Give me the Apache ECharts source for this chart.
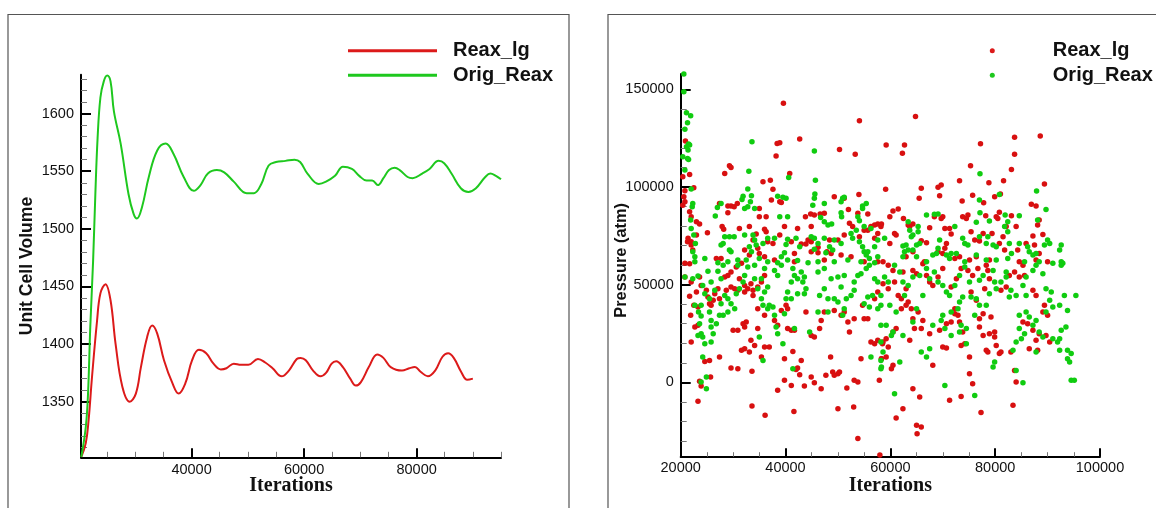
<!DOCTYPE html>
<html>
<head>
<meta charset="utf-8">
<script src="https://cdn.jsdelivr.net/npm/echarts@6/dist/echarts.min.js"></script>
<style>
html,body{margin:0;padding:0;background:#fff;}
#chart{width:1156px;height:508px;}
</style>
</head>
<body>
<div id="chart"></div>
<script>
// ---------- Left panel: Unit Cell Volume vs Iterations ----------
const seriesNames = ['Reax_lg', 'Orig_Reax'];

const reaxLgIter = [20400, 21200, 21700, 22300, 23200, 23800, 24700, 25600, 26500, 27700, 29000, 30100, 31000, 32100, 33000, 33900, 35100, 36600, 37700, 38900, 40100, 41300, 42600, 43900, 45200, 46200, 47500, 48800, 50100, 51800, 53100, 54400, 56000, 57300, 58700, 59400, 60300, 61600, 62900, 63900, 64900, 65700, 66900, 68200, 69200, 70100, 71500, 73000, 74100, 75400, 77400, 78700, 79700, 80700, 82000, 83300, 84600, 85600, 86600, 87900, 89000, 90000];
const reaxLgVolume = [1302, 1314, 1334, 1371, 1420, 1444, 1452, 1438, 1400, 1363, 1350, 1357, 1380, 1406, 1416, 1409, 1386, 1366, 1357, 1366, 1386, 1395, 1392, 1383, 1378, 1379, 1383, 1382, 1382, 1387, 1384, 1379, 1372, 1377, 1387, 1388, 1386, 1377, 1372, 1375, 1383, 1385, 1380, 1370, 1364, 1367, 1380, 1391, 1388, 1380, 1377, 1379, 1380, 1376, 1372, 1377, 1389, 1392, 1388, 1376, 1369, 1370];

const origReaxIter = [20400, 21200, 21600, 22000, 22500, 22900, 23300, 23800, 24400, 25000, 25600, 26200, 27400, 28800, 29700, 30300, 31200, 32400, 33900, 35400, 36800, 38600, 40400, 41600, 42900, 44500, 45800, 47500, 49800, 51100, 52400, 53700, 55000, 56700, 58300, 59300, 60600, 62600, 63900, 65500, 66900, 68500, 69800, 71100, 72100, 73100, 74100, 75100, 76100, 77000, 78400, 79300, 81000, 82300, 83900, 84900, 86200, 87900, 89200, 90500, 92200, 93100, 94100, 95000];
const origReaxVolume = [1302, 1328, 1357, 1415, 1472, 1530, 1579, 1614, 1628, 1633, 1628, 1602, 1574, 1530, 1513, 1509, 1519, 1545, 1568, 1574, 1565, 1545, 1533, 1538, 1548, 1551, 1549, 1541, 1531, 1531, 1539, 1555, 1558, 1559, 1560, 1558, 1548, 1539, 1541, 1546, 1554, 1552, 1546, 1542, 1542, 1538, 1544, 1551, 1553, 1551, 1545, 1544, 1548, 1552, 1559, 1557, 1548, 1535, 1532, 1535, 1545, 1548, 1546, 1543];

const volumeTicks = [1350, 1400, 1450, 1500, 1550, 1600];
const volumeMinorTicks = [1310, 1320, 1330, 1340, 1360, 1370, 1380, 1390, 1410, 1420, 1430, 1440, 1460, 1470, 1480, 1490, 1510, 1520, 1530, 1540, 1560, 1570, 1580, 1590, 1610, 1620, 1630];
const volumeIterTicks = [40000, 60000, 80000];
const volumeIterMinorTicks = [25000, 30000, 35000, 45000, 50000, 55000, 65000, 70000, 75000, 85000, 90000, 95000];

// ---------- Right panel: Pressure vs Iterations ----------
const reaxLgPressure = [
[39600,142800],[54100,133900],[42700,124500],[38400,122300],[38900,122600],[38200,115800],[50300,119200],[53300,116700],[29300,110900],[29600,110000],[28400,106900],[21700,106400],[20400,105200],[20900,123500],[40800,106900],[35700,102700],[37100,103500],[37600,98800],[22500,99600],[20800,98100],[20600,95000],[20400,90700],[20800,92400],[38900,92400],[39200,92100],[37300,93300],[49300,95000],[51200,94200],[54000,96200],[29000,90200],[29600,90200],[30200,89900],[30800,91600],[27400,91600],[35000,89000],[36300,84800],[29000,86800],[21700,87300],[22000,84800],[23000,82200],[23600,81000],[25100,76600],[27900,79700],[28200,78300],[31200,78800],[33100,79700],[35000,84800],[43800,84800],[44800,86100],[45500,85600],[46600,86100],[47400,86500],[52000,88500],[52200,81400],[52800,79700],[53800,86500],[55700,86100],[57000,80500],[57600,81000],[58200,79700],[56300,79700],[55700,77900],[55000,77900],[57600,76200],[57000,73700],[54100,74500],[51200,75400],[50000,72800],[48400,72800],[47900,66900],[48700,66000],[50600,65200],[46200,69100],[44900,72000],[44300,72800],[43900,70800],[43000,70800],[41100,72000],[39800,79700],[42300,78800],[44900,79700],[36000,78300],[36300,77100],[36600,72000],[37600,71100],[38900,75400],[34400,75900],[33800,72800],[34700,68600],[35000,66000],[21400,73700],[21300,72000],[22000,72000],[22000,70300],[23000,75400],[22300,67700],[27700,63400],[32200,67700],[33100,65200],[36000,64300],[41700,66000],[44900,66900],[46200,66300],[55000,61700],[20800,60900],[31600,60900],[37900,62600],[41700,61700],[47400,62600],[52500,64300],[57600,61700],[26800,63400],
[21700,60700],[20800,53900],[22000,51300],[23600,53900],[23900,49600],[23000,46200],[24900,47100],[21700,44000],[22500,39400],[23300,38500],[21900,34300],[22700,28300],[23300,29200],[25200,43700],[25500,40200],[25800,39400],[26200,42000],[26500,45400],[27400,42800],[27100,47900],[28400,53900],[29000,54700],[29600,56500],[30600,59000],[28700,47100],[29600,48800],[30300,47900],[30900,47100],[31200,53000],[32200,49600],[32200,46200],[32800,47900],[33400,50500],[33800,47100],[33800,44500],[34700,48800],[35400,51300],[36000,54700],[32500,30900],[31900,30000],[32200,28300],[30000,26600],[30900,26600],[34700,27500],[33400,21500],[33100,15500],[31600,16400],[32200,17200],[34100,18900],[36000,18100],[36900,18100],[35400,12900],[34700,37700],[36000,34300],[37900,31700],[38500,29200],[39200,36800],[40100,39400],[40400,37700],[40400,27500],[41100,26600],[41700,26600],[43900,36000],[44900,24000],[45500,23200],[46500,27500],[46800,31700],[47400,36000],[49300,36800],[50600,34300],[51200,36000],[51900,30900],[52200,25700],[53100,32600],[55000,32600],[55700,32600],[54700,39400],[57000,42800],[57600,46200],[56300,20600],[57000,19800],[57600,21500],[58500,19800],[58300,12100],[57900,1000],[54400,12100],[48600,12900],[49000,5300],[50000,4400],[50300,5300],[49300,3600],[47700,3600],[44900,2700],[43600,-1900],[45500,-200],[46800,-3300],[41400,15800],[43000,11200],[42300,7300],[42000,6600],[42700,3900],[41100,-1600],[39800,1000],[38500,-4100],[39800,12100],[22000,20600],[24600,10700],[25500,11200],[27400,12900],[29600,7300],[30900,7000],[33600,5600],[23600,500],[25700,2700],[23900,-1900],[23300,-9700],[33600,-12100],[36100,-16900],[41600,-14900],[50000,-13500],[53000,-12600],[53800,200],[51700,-2900],[53100,1000],[53800,-28800],
[64800,136100],[59200,121500],[62700,121500],[62300,117200],[77200,122100],[83700,125400],[88600,126100],[83700,116700],[75300,110900],[83100,109000],[81600,103200],[78800,102200],[89400,101500],[59100,98800],[65900,99300],[69100,99800],[69700,101000],[69400,95500],[65500,94200],[73200,103200],[75700,95700],[79900,95000],[81000,96400],[77800,91900],[73700,92800],[86900,91100],[87800,90200],[60500,87700],[61500,88700],[59900,84800],[62500,83900],[63400,80500],[63700,79700],[64300,81000],[58300,81000],[68400,84800],[70000,84800],[69700,83900],[67500,79100],[70400,78800],[71300,78800],[71600,75900],[74800,85600],[74500,83900],[73800,84800],[78200,85300],[80200,84800],[80500,83900],[80800,87000],[83100,85300],[82100,79700],[81500,74500],[81800,67700],[76100,72800],[77000,72300],[77700,76200],[79400,76200],[70700,71100],[70400,68600],[72300,63400],[59900,71100],[60800,76200],[61100,75400],[65900,72500],[66900,71500],[64300,66900],[63000,64300],[69100,66900],[70000,66000],[75400,77100],[87200,74900],[88100,80500],[88400,83100],[89100,75700],[85900,71100],[87500,70300],[88400,66000],[87800,62600],[84300,67700],[66500,61700],[75100,62600],[78900,62600],[84600,61700],[90000,61700],[58600,61700],[73200,64300],[80800,71100],[84000,79700],[76400,64300],
[58600,50500],[59600,47900],[60800,51300],[61500,44500],[62100,42800],[63000,39400],[63400,41100],[62400,56500],[64300,57300],[65000,55600],[66200,60700],[66900,54700],[67500,51300],[68100,49600],[69100,53900],[70000,58200],[71600,48800],[72600,53000],[73500,58200],[74800,57300],[75700,54700],[76700,58200],[78300,59900],[78600,57300],[78900,53000],[78000,47900],[76400,42000],[75400,46200],[72300,37700],[72300,35100],[72900,34300],[73200,30900],[73800,25700],[74200,19800],[73500,18900],[71600,30900],[70700,30000],[69400,26600],[67500,24900],[65900,27500],[66200,31700],[65300,36000],[64000,37700],[64300,32600],[64600,27500],[63700,21500],[62100,37700],[63000,47900],[61100,27500],[60500,25700],[59200,22300],[58600,20600],[59600,18100],[58300,12100],[59200,12900],[60500,8700],[60200,7000],[77700,35100],[77000,32600],[77000,28300],[77700,24000],[78900,24900],[79900,23200],[80200,18900],[79900,25700],[81100,15500],[80800,14700],[83000,15500],[83700,6100],[84000,200],[83400,-11800],[79200,33400],[81100,47100],[82100,48800],[82700,54700],[83700,56500],[84600,53900],[85600,54700],[87200,47100],[87800,44500],[85300,30900],[86200,30000],[87200,26600],[87800,21500],[86500,17200],[88100,16400],[88400,24900],[89700,24000],[90400,20600],[89100,36000],[89400,39400],[90000,34300],[75100,4400],[75700,-700],[68100,8700],[70000,18100],[70700,17600],[64300,-3300],[65600,-7500],[62400,-13500],[61100,-18300],[65000,-22000],[65900,-22900],[65100,-26300],[71300,-9200],[73500,-7200],[77300,-15500],[78300,16400],[78600,15500],[75100,12900],[85300,59900],[59600,59900],[60500,57300],[58000,-37200]
];

const origReaxPressure = [
[20600,157800],[20600,148700],[21100,138000],[21900,136500],[21300,132900],[20800,129500],[21500,122000],[21100,120600],[21700,121500],[21400,118900],[21300,114600],[20400,115500],[21500,114100],[20800,108700],[22000,98900],[22300,91600],[22200,89900],[21900,83100],[22000,78800],[22500,75400],[22800,71100],[22300,66900],[22700,64300],[33600,123200],[33000,108100],[32800,98900],[31900,95300],[31700,93600],[33500,95500],[33300,92400],[32800,89900],[32200,89000],[34100,89000],[27000,89500],[26600,85100],[27700,91600],[45500,118400],[45700,103500],[40600,104900],[38500,95300],[39500,94700],[40100,94200],[45600,96400],[45200,90700],[45500,94200],[47400,91600],[50900,94200],[50600,92400],[51200,94700],[54700,90200],[54700,89000],[55400,91600],[50600,86800],[50700,84800],[53800,84800],[54100,82700],[48800,81000],[47400,82200],[48100,80500],[46700,84400],[40400,84800],[38900,84800],[28400,74500],[29300,74500],[30200,74500],[28100,71100],[27700,70300],[29300,67700],[29600,66900],[32200,75400],[33800,75400],[34100,72800],[34400,70300],[33100,69400],[33500,66900],[36600,73700],[35700,71100],[37900,73700],[40400,73200],[40100,70600],[42000,73700],[42700,69400],[39800,66300],[39200,64300],[44900,74500],[45500,73700],[46200,71100],[45500,68100],[47400,73700],[48400,69400],[49000,67700],[49300,72800],[50600,71100],[52500,76200],[52800,73700],[53500,77900],[54100,72000],[54700,69400],[55000,66900],[55700,66900],[57000,69400],[57600,72800],[56300,78800],[55000,79700],[55400,65200],[56000,63400],[57600,64300],[22700,61700],[24600,63400],[27100,61200],[29000,61700],[30900,62600],[32500,62600],[35000,63400],[36600,61700],[38500,61200],[40400,62600],[42300,62300],[44300,61200],[46200,61700],[47700,66300],[49300,61700],[51900,62600],[54400,61700],[57000,61200],
[20800,53900],[22300,53000],[23300,54400],[24200,49600],[24600,45400],[25500,42800],[22700,39400],[23400,36000],[23900,33900],[23600,30000],[23900,24900],[23300,24000],[24200,23200],[24600,19800],[25800,20600],[26200,24900],[25800,28300],[25800,31700],[26800,30000],[27400,34300],[25500,36000],[23900,39400],[25200,56800],[27100,56800],[27700,53000],[25800,51300],[26500,47100],[28400,44500],[27700,40200],[29000,42800],[28100,34300],[29000,36000],[29600,40200],[30300,37700],[30600,45400],[31200,47900],[31900,51300],[32200,54700],[32800,59000],[30900,59900],[34100,53000],[34700,47900],[35400,42800],[36000,46200],[36600,48800],[35700,39400],[36600,37700],[37900,34300],[37600,38500],[36900,39400],[38200,28300],[38500,24900],[39500,19800],[35000,23200],[35700,11200],[41400,7000],[41700,27500],[39800,35100],[40100,42800],[40400,46200],[41100,51300],[41700,54700],[41400,58200],[43000,56500],[42300,53000],[43300,51300],[43900,47900],[43600,45400],[42300,45400],[41100,42800],[43600,53900],[44600,25700],[46200,36000],[46500,44500],[47400,47900],[48100,42800],[48700,53000],[50000,53900],[51200,54700],[50600,48800],[49300,42800],[50000,41100],[51600,42800],[52500,44500],[53100,47100],[53800,54700],[54400,55600],[55400,58200],[56000,59900],[57000,53000],[56600,44500],[55700,43700],[55000,40200],[56000,38500],[57600,37700],[58200,39400],[58200,29200],[58200,20600],[56300,12900],[58200,11200],[58200,7000],[24200,12900],[24900,2700],[23900,200],[24900,-3300],[39200,59900],[37900,57300],[36000,58200],[34100,59900],[28100,59900],[35400,53000],[38500,54700],[46200,56500],[47400,58200],[53100,51300],[51200,37700],[50900,34300],[48100,36000],[58200,44500],[57600,51300],
[77100,106800],[80800,96200],[77000,93300],[87900,97900],[89700,88500],[66900,85600],[68400,86000],[69100,86100],[72300,79700],[76400,81900],[77100,86800],[78900,82600],[81900,85600],[82400,82200],[84600,85300],[81800,79700],[82400,77100],[88100,83100],[58900,73700],[63400,82200],[63700,77900],[64000,74500],[64300,75400],[65300,79700],[65300,77100],[62400,69800],[63000,70300],[62700,66900],[63400,67700],[64300,67700],[65600,71100],[65000,70300],[69400,72800],[69100,68600],[68800,66000],[68100,65200],[70700,65200],[71300,63400],[71600,66000],[72600,66000],[74200,71100],[74800,70300],[73800,73700],[77000,74500],[78300,71100],[78600,74500],[79600,70300],[80200,69400],[82700,71100],[83100,66000],[84600,71100],[86200,69400],[86500,66900],[87200,65200],[87800,66000],[89400,70300],[90000,72800],[90400,71100],[92600,70300],[92300,67700],[92900,60900],[91000,60900],[65000,64300],[66900,61700],[74200,61700],[76400,65200],[78300,62600],[80200,62600],[82400,63400],[85600,61700],[88400,61700],[62400,64300],[92600,61700],
[58900,53900],[59600,51300],[60800,59900],[61800,56500],[62400,51300],[63400,49600],[62700,44500],[64300,53900],[65600,54700],[66900,58200],[67500,53000],[68400,56500],[69100,51300],[70000,49600],[70700,46200],[71300,44500],[72300,49600],[73200,54700],[74200,59000],[75100,51300],[75400,43700],[76400,42800],[73800,43700],[72900,37700],[71600,36000],[70000,34300],[69700,31700],[70400,27500],[71600,24000],[73200,25700],[73500,29200],[74500,27500],[76100,34300],[77000,39400],[78300,39400],[78900,45400],[80200,47900],[79900,51300],[81100,51300],[82100,53900],[82700,43700],[83000,47100],[84000,44500],[85300,49600],[85900,53900],[87200,57300],[87800,59900],[89100,55600],[89700,47900],[90700,46200],[90400,42000],[91000,38500],[92300,39400],[93200,44500],[93800,36800],[93500,28300],[92600,26600],[91900,20600],[92300,16400],[93800,16400],[94500,14700],[93800,12100],[94200,10400],[94500,1000],[95100,1000],[92300,22300],[91000,22300],[89100,23200],[88400,25700],[87200,29200],[87800,31700],[86500,33400],[85900,36000],[84600,34300],[84600,27500],[85600,24900],[85000,22300],[84000,20600],[83400,16400],[79900,10400],[79600,7800],[76100,-6700],[70400,-1600],[65900,15500],[67500,17200],[66900,12900],[61800,10400],[60500,25700],[60200,24000],[58600,15500],[58300,7800],[60800,-5800],[85300,-200],[84000,6100],[77000,52200],[77700,54700],[79600,57300],[82100,56500],[85900,44500],[92600,59900],[73200,41100],[59900,39400],[61100,36000],[59200,29200],[62400,24000],[65000,37700],[66200,44500],[64300,30900],[68100,29200],[74500,19800],[87800,15500],[89700,36000],[95400,44500]
];

const pressureTicks = [0, 50000, 100000, 150000];
const pressureMinorTicks = [-30000, -20000, -10000, 10000, 20000, 30000, 40000, 60000, 70000, 80000, 90000, 110000, 120000, 130000, 140000];

// ---------- styles ----------
const RED_LINE = '#dc1a1a';
const GREEN_LINE = '#1ec81e';
const RED_DOT = '#d81010';
const GREEN_DOT = '#10cc10';
const SANS = 'Liberation Sans, Arial, sans-serif';
const SERIF = 'Liberation Serif, Times New Roman, serif';
const plain = v => String(v);
const labelStyle = { fontSize: 14.5, color: '#111', fontFamily: SANS, formatter: plain };

function zip(xs, ys) { return xs.map((x, i) => [x, ys[i]]); }

const chart = echarts.init(document.getElementById('chart'), null, { renderer: 'canvas' });

const majorTickStyle = { color: '#000', width: 2 };
const minorTickStyle = { color: '#777', width: 1 };
const axisLineStyle = { color: '#000', width: 2 };

const option = {
  backgroundColor: '#fff',
  animation: false,
  graphic: [
    { type: 'rect', silent: true, z: -10, shape: { x: 8, y: 14.5, width: 561, height: 520 }, style: { fill: 'none', stroke: '#555', lineWidth: 1.2 } },
    { type: 'rect', silent: true, z: -10, shape: { x: 608, y: 14.5, width: 600, height: 520 }, style: { fill: 'none', stroke: '#555', lineWidth: 1.2 } }
  ],
  legend: [
    {
      left: 343, top: 35.7, orient: 'vertical', icon: 'rect',
      itemWidth: 89, itemHeight: 3, itemGap: 4.6, selectedMode: false,
      data: seriesNames,
      textStyle: { fontSize: 20, fontWeight: 'bold', fontFamily: SANS, color: '#111', lineHeight: 20, padding: [0, 0, 0, 11] }
    },
    {
      left: 984.8, top: 35.7, orient: 'vertical', icon: 'circle',
      itemWidth: 5, itemHeight: 5, itemGap: 4.6, selectedMode: false,
      data: seriesNames,
      textStyle: { fontSize: 20, fontWeight: 'bold', fontFamily: SANS, color: '#111', lineHeight: 20, padding: [0, 0, 0, 53] }
    }
  ],
  grid: [
    { left: 81, top: 74.7, width: 420, height: 382.6 },
    { left: 680.7, top: 74, width: 419.3, height: 382.7 }
  ],
  xAxis: [
    {
      gridIndex: 0, type: 'value', min: 20350, max: 95000, position: 'bottom',
      axisLine: { onZero: false, lineStyle: axisLineStyle },
      axisTick: { inside: true, length: 9, lineStyle: majorTickStyle, customValues: volumeIterTicks },
      axisLabel: Object.assign({ customValues: volumeIterTicks, margin: 5 }, labelStyle),
      splitLine: { show: false },
      name: 'Iterations', nameLocation: 'middle', nameGap: 19, nameMoveOverlap: false,
      nameTextStyle: { fontFamily: SERIF, fontWeight: 'bold', fontSize: 20, color: '#111' }
    },
    {
      gridIndex: 0, type: 'value', min: 20350, max: 95000, position: 'bottom', offset: 0,
      axisLine: { show: false },
      axisTick: { inside: true, length: 5.5, lineStyle: minorTickStyle, customValues: volumeIterMinorTicks },
      axisLabel: { show: false }, splitLine: { show: false }
    },
    {
      gridIndex: 1, type: 'value', min: 20000, max: 100000, interval: 20000, position: 'bottom',
      axisLine: { onZero: false, lineStyle: axisLineStyle },
      axisTick: { inside: true, length: 8.5, lineStyle: majorTickStyle },
      minorTick: { show: true, splitNumber: 4, length: 4.5, lineStyle: minorTickStyle },
      axisLabel: Object.assign({ margin: 4 }, labelStyle),
      splitLine: { show: false },
      name: 'Iterations', nameLocation: 'middle', nameGap: 19, nameMoveOverlap: false,
      nameTextStyle: { fontFamily: SERIF, fontWeight: 'bold', fontSize: 20, color: '#111' }
    }
  ],
  yAxis: [
    {
      gridIndex: 0, type: 'value', min: 1301.7, max: 1633.8, position: 'left',
      axisLine: { onZero: false, lineStyle: axisLineStyle },
      axisTick: { inside: true, length: 10, lineStyle: majorTickStyle, customValues: volumeTicks },
      axisLabel: Object.assign({ customValues: volumeTicks, margin: 7 }, labelStyle),
      splitLine: { show: false },
      name: 'Unit Cell Volume', nameLocation: 'middle', nameGap: 45, nameMoveOverlap: false,
      nameTextStyle: { fontFamily: SANS, fontWeight: 'bold', fontSize: 17.6, color: '#111' }
    },
    {
      gridIndex: 0, type: 'value', min: 1301.7, max: 1633.8, position: 'left', offset: 0,
      axisLine: { show: false },
      axisTick: { inside: true, length: 6, lineStyle: minorTickStyle, customValues: volumeMinorTicks },
      axisLabel: { show: false }, splitLine: { show: false }
    },
    {
      gridIndex: 1, type: 'value', min: -38080, max: 157830, position: 'left',
      axisLine: { onZero: false, lineStyle: axisLineStyle },
      axisTick: { inside: true, length: 10, lineStyle: majorTickStyle, customValues: pressureTicks },
      axisLabel: Object.assign({ customValues: pressureTicks, margin: 7 }, labelStyle),
      splitLine: { show: false },
      name: 'Pressure (atm)', nameLocation: 'middle', nameGap: 51, nameMoveOverlap: false,
      nameTextStyle: { fontFamily: SANS, fontWeight: 'bold', fontSize: 16.4, color: '#111', padding: [0, 0, 0, 10] }
    },
    {
      gridIndex: 1, type: 'value', min: -38080, max: 157830, position: 'left', offset: 0,
      axisLine: { show: false },
      axisTick: { inside: true, length: 6, lineStyle: minorTickStyle, customValues: pressureMinorTicks },
      axisLabel: { show: false }, splitLine: { show: false }
    }
  ],
  series: [
    {
      name: 'Reax_lg', type: 'line', xAxisIndex: 0, yAxisIndex: 0,
      data: zip(reaxLgIter, reaxLgVolume), smooth: 0.4, showSymbol: false, symbol: 'none',
      lineStyle: { color: RED_LINE, width: 2 }, itemStyle: { color: RED_LINE }
    },
    {
      name: 'Orig_Reax', type: 'line', xAxisIndex: 0, yAxisIndex: 0,
      data: zip(origReaxIter, origReaxVolume), smooth: 0.4, showSymbol: false, symbol: 'none',
      lineStyle: { color: GREEN_LINE, width: 2 }, itemStyle: { color: GREEN_LINE }
    },
    {
      name: 'Reax_lg', type: 'scatter', xAxisIndex: 2, yAxisIndex: 2,
      data: reaxLgPressure, symbolSize: 5.5, itemStyle: { color: RED_DOT, opacity: 1 }
    },
    {
      name: 'Orig_Reax', type: 'scatter', xAxisIndex: 2, yAxisIndex: 2,
      data: origReaxPressure, symbolSize: 5.5, itemStyle: { color: GREEN_DOT, opacity: 1 }
    }
  ]
};

chart.setOption(option);
</script>
</body>
</html>
